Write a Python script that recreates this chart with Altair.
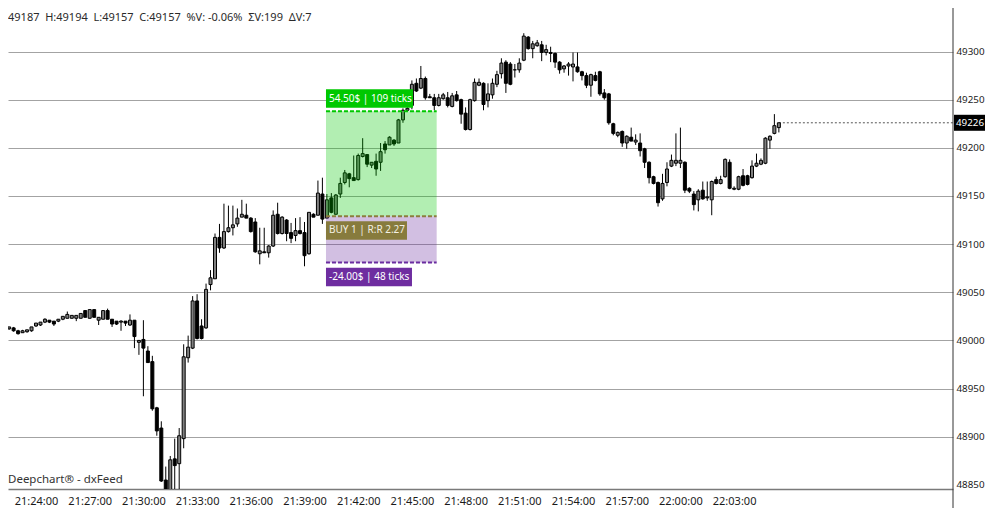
import altair as alt
import pandas as pd
from datetime import datetime, timedelta, timezone

# ---------------- data (15-second candles) ----------------
opens = [49012, 49012, 49012, 49013, 49010, 49008, 49009, 49010, 49015, 49016,
         49019, 49021, 49020, 49020, 49022, 49023, 49023, 49023, 49023, 49031,
         49023, 49032, 49021, 49022, 49031, 49022, 49020, 49019, 49020, 49016,
         49021, 48998, 49001, 48989, 48978, 48930, 48909, 48855, 48841, 48877,
         48872, 48898, 48982, 48992, 49041, 49015, 49013, 49058, 49064, 49107,
         49096, 49113, 49117, 49121, 49128, 49130, 49127, 49123, 49090, 49092,
         49091, 49098, 49131, 49111, 49125, 49112, 49109, 49114, 49112, 49090,
         49131, 49130, 49152, 49127, 49148, 49131, 49152, 49164, 49173, 49169,
         49167, 49191, 49193, 49182, 49186, 49185, 49204, 49203, 49208, 49205,
         49229, 49239, 49244, 49267, 49262, 49272, 49253, 49252, 49244, 49251,
         49252, 49243, 49255, 49250, 49236, 49219, 49249, 49265, 49267, 49249,
         49255, 49266, 49277, 49289, 49287, 49281, 49281, 49291, 49315, 49303,
         49306, 49307, 49299, 49299, 49298, 49289, 49282, 49285, 49284, 49284,
         49279, 49275, 49265, 49275, 49279, 49257, 49256, 49225, 49213, 49217,
         49205, 49211, 49206, 49205, 49199, 49185, 49170, 49164, 49147, 49164,
         49181, 49184, 49184, 49185, 49158, 49152, 49146, 49156, 49148, 49146,
         49167, 49163, 49170, 49185, 49157, 49157, 49171, 49171, 49169, 49181,
         49183, 49184, 49208, 49215, 49221]
highs = [49015, 49015, 49014, 49014, 49011, 49011, 49011, 49014, 49018, 49019,
         49023, 49021, 49020, 49022, 49025, 49030, 49026, 49026, 49028, 49031,
         49032, 49032, 49024, 49031, 49033, 49022, 49020, 49021, 49020, 49027,
         49021, 49000, 49021, 48994, 48984, 48931, 48916, 48869, 48880, 48898,
         48909, 48996, 49005, 49046, 49048, 49022, 49059, 49073, 49111, 49121,
         49142, 49140, 49140, 49137, 49146, 49142, 49128, 49127, 49117, 49117,
         49099, 49135, 49143, 49129, 49126, 49122, 49127, 49128, 49123, 49133,
         49132, 49166, 49169, 49152, 49153, 49152, 49169, 49177, 49174, 49192,
         49194, 49210, 49193, 49185, 49194, 49205, 49207, 49212, 49209, 49230,
         49241, 49242, 49270, 49272, 49285, 49274, 49256, 49256, 49256, 49257,
         49258, 49257, 49259, 49251, 49242, 49251, 49272, 49272, 49268, 49267,
         49272, 49280, 49293, 49291, 49289, 49287, 49293, 49319, 49316, 49311,
         49312, 49311, 49307, 49305, 49299, 49290, 49286, 49289, 49299, 49299,
         49280, 49278, 49277, 49279, 49280, 49261, 49257, 49226, 49217, 49218,
         49213, 49221, 49214, 49215, 49200, 49186, 49171, 49165, 49173, 49185,
         49193, 49215, 49221, 49186, 49159, 49155, 49157, 49165, 49165, 49166,
         49170, 49171, 49189, 49188, 49160, 49171, 49178, 49172, 49187, 49194,
         49189, 49211, 49213, 49235, 49226]
lows = [49011, 49011, 49011, 49009, 49006, 49008, 49008, 49009, 49014, 49015,
        49018, 49018, 49015, 49019, 49021, 49023, 49023, 49020, 49023, 49024,
        49023, 49024, 49016, 49022, 49022, 49014, 49016, 49010, 49015, 49015,
        48992, 48985, 48942, 48977, 48927, 48901, 48853, 48838, 48838, 48844,
        48844, 48888, 48977, 48991, 49001, 49001, 49012, 49052, 49064, 49091,
        49095, 49112, 49109, 49118, 49128, 49127, 49112, 49091, 49079, 49091,
        49086, 49097, 49110, 49110, 49103, 49101, 49103, 49110, 49077, 49089,
        49128, 49130, 49121, 49127, 49132, 49131, 49148, 49162, 49159, 49166,
        49166, 49190, 49180, 49179, 49171, 49176, 49194, 49203, 49202, 49205,
        49226, 49238, 49240, 49258, 49261, 49250, 49252, 49239, 49243, 49250,
        49242, 49242, 49248, 49225, 49218, 49218, 49248, 49264, 49239, 49242,
        49251, 49263, 49272, 49257, 49265, 49273, 49278, 49290, 49302, 49293,
        49305, 49290, 49296, 49289, 49283, 49277, 49278, 49275, 49269, 49278,
        49270, 49262, 49253, 49269, 49254, 49250, 49224, 49213, 49211, 49201,
        49199, 49207, 49203, 49191, 49179, 49163, 49162, 49139, 49145, 49160,
        49180, 49181, 49179, 49153, 49153, 49135, 49134, 49146, 49145, 49130,
        49162, 49162, 49169, 49157, 49156, 49156, 49160, 49161, 49168, 49180,
        49182, 49183, 49199, 49214, 49216]
closes = [49014, 49015, 49014, 49010, 49007, 49010, 49011, 49014, 49018, 49019,
          49022, 49019, 49017, 49022, 49025, 49027, 49026, 49026, 49028, 49024,
          49032, 49024, 49024, 49031, 49022, 49017, 49017, 49020, 49018, 49021,
          49004, 49000, 48992, 48977, 48929, 48906, 48854, 48843, 48876, 48870,
          48901, 48983, 48993, 49041, 49002, 49002, 49053, 49065, 49107, 49096,
          49113, 49117, 49120, 49127, 49131, 49127, 49113, 49092, 49093, 49091,
          49098, 49130, 49111, 49128, 49111, 49106, 49114, 49111, 49088, 49133,
          49128, 49153, 49126, 49146, 49133, 49151, 49163, 49174, 49168, 49166,
          49192, 49194, 49183, 49185, 49178, 49196, 49198, 49211, 49204, 49229,
          49239, 49241, 49266, 49259, 49272, 49252, 49252, 49244, 49252, 49255,
          49244, 49254, 49249, 49235, 49219, 49250, 49268, 49268, 49245, 49256,
          49267, 49276, 49288, 49267, 49266, 49281, 49288, 49316, 49303, 49308,
          49309, 49299, 49302, 49298, 49289, 49281, 49285, 49287, 49287, 49279,
          49275, 49265, 49276, 49270, 49256, 49252, 49226, 49215, 49216, 49205,
          49212, 49207, 49208, 49197, 49185, 49169, 49163, 49143, 49163, 49178,
          49187, 49187, 49187, 49156, 49155, 49141, 49155, 49147, 49149, 49165,
          49163, 49167, 49188, 49158, 49158, 49170, 49161, 49162, 49181, 49184,
          49187, 49210, 49212, 49223, 49226]

y_tick_values = [48850, 48900, 48950, 49000, 49050, 49100, 49150, 49200, 49250, 49300, 49350]

# position tool (long, 1 contract)
entry_price = 49129
target_price = 49238
stop_price = 49081
profit_label = "54.50$ | 109 ticks"
entry_label = "BUY 1 | R:R 2.27"
loss_label = "-24.00$ | 48 ticks"

header_text = "49187 \u00a0H:49194 \u00a0L:49157 \u00a0C:49157 \u00a0%V: -0.06% \u00a0ΣV:199 \u00a0ΔV:7"
watermark_text = "Deepchart® - dxFeed"

# ---------------- helpers ----------------
UTC = timezone.utc


def ts(h, m, s=0.0):
    return datetime(2024, 1, 1, h, m, 0, tzinfo=UTC) + timedelta(seconds=s)


def iso(d):
    return d.strftime("%Y-%m-%dT%H:%M:%S.%f")[:-3] + "Z"


def ms(d):
    return int(round(d.timestamp() * 1000))


first_bar = ts(21, 22)
bar_seconds = 15
times = [iso(first_bar + timedelta(seconds=bar_seconds * i)) for i in range(len(opens))]
df = pd.DataFrame({"t": times, "o": opens, "h": highs, "l": lows, "c": closes})

view_start = ts(21, 22, 26.15)
view_end = ts(22, 15, 13.7)
x_tick_values = [ms(ts(21, 24) + timedelta(minutes=3 * i)) for i in range(14)]

FONT = "Noto Sans"
W, H = 945, 481

xs = alt.Scale(type="utc", domain=[ms(view_start), ms(view_end)], nice=False, padding=0)
ys = alt.Scale(domain=[48845.7, 49345.2], nice=False, zero=False, padding=0)

x_axis = alt.Axis(values=x_tick_values, labelExpr="utcFormat(datum.value, '%H:%M:%S')",
                  title=None, grid=False, ticks=False, tickSize=0, labelPadding=15,
                  labelBaseline="alphabetic", labelFont=FONT, labelFontSize=11,
                  labelColor="#1a1a1a", domainColor="#7a7a7a", domainWidth=1.5,
                  labelOverlap=False, labelFlush=False)
y_axis = alt.Axis(orient="right", values=y_tick_values, format="d", title=None, ticks=False,
                  tickSize=0, labelPadding=3, labelFont=FONT, labelFontSize=9.8,
                  labelColor="#1a1a1a", labelAlign="left", labelBaseline="middle",
                  domain=False, grid=True, gridColor="#a3a3a3", gridWidth=1,
                  gridOpacity={"condition": {"test": "datum.value === 48850", "value": 0}, "value": 1},
                  labelOverlap=False, labelFlush=False)


def X(f):
    return alt.X(f, scale=xs, axis=x_axis)


def Y(f):
    return alt.Y(f, scale=ys, axis=y_axis)


# ---------------- candles ----------------
wicks = alt.Chart(df).mark_rule(color="#000000", strokeWidth=1, clip=True).encode(
    x=X("t:T"), y=Y("l:Q"), y2="h:Q")
bodies = alt.Chart(df).mark_bar(size=3, stroke="#000000", strokeWidth=1, clip=True).encode(
    x=X("t:T"),
    y=Y("o:Q"),
    y2="c:Q",
    fill=alt.condition("datum.c >= datum.o", alt.value("#808080"), alt.value("#000000")),
)

# ---------------- last price ----------------
lp_df = pd.DataFrame({"t": [times[-1]], "t2": [iso(view_end)], "p": [closes[-1]],
                      "label": [str(closes[-1])]})
lp_line = alt.Chart(lp_df).mark_rule(color="#555555", strokeWidth=1, strokeDash=[2, 2]).encode(
    x=X("t:T"), x2="t2:T", y=Y("p:Q"))
lp_box = alt.Chart(lp_df).mark_rect(width=31, height=16, xOffset=16.5, color="#000000").encode(
    x=X("t2:T"), y=Y("p:Q"))
lp_text = alt.Chart(lp_df).mark_text(align="left", baseline="middle", dx=3, font=FONT,
                                     fontSize=9.8, color="#ffffff").encode(
    x=X("t2:T"), y=Y("p:Q"), text="label:N")
axis_ext = alt.Chart(lp_df).mark_rule(color="#333333", strokeWidth=1).encode(
    x=X("t2:T"), y=alt.value(0), y2=alt.value(500))

# ---------------- position tool ----------------
pos_df = pd.DataFrame({"t0": [iso(ts(21, 40, 12))], "t1": [iso(ts(21, 46, 23))],
                       "entry": [entry_price], "target": [target_price], "stop": [stop_price],
                       "pl": [profit_label], "el": [entry_label], "ll": [loss_label]})
pos = alt.Chart(pos_df)
green_zone = pos.mark_rect(color="#00c800", opacity=0.3).encode(
    x=X("t0:T"), x2="t1:T", y=Y("entry:Q"), y2="target:Q")
red_zone = pos.mark_rect(color="#6a2ca0", opacity=0.3).encode(
    x=X("t0:T"), x2="t1:T", y=Y("stop:Q"), y2="entry:Q")
line_target = pos.mark_rule(color="#00c800", strokeWidth=2, strokeDash=[4, 2]).encode(
    x=X("t0:T"), x2="t1:T", y=Y("target:Q"))
line_entry = pos.mark_rule(color="#8c7d3e", strokeWidth=2, strokeDash=[4, 2]).encode(
    x=X("t0:T"), x2="t1:T", y=Y("entry:Q"))
line_stop = pos.mark_rule(color="#6a2ca0", strokeWidth=2, strokeDash=[4, 2]).encode(
    x=X("t0:T"), x2="t1:T", y=Y("stop:Q"))


def tag(field, label_field, width, yoff, fill, text_color):
    box = pos.mark_rect(width=width, height=18.5, xOffset=width / 2, yOffset=yoff,
                        color=fill).encode(x=X("t0:T"), y=Y(f"{field}:Q"))
    txt = pos.mark_text(align="left", baseline="middle", dx=3, dy=yoff, font=FONT,
                        fontSize=10, color=text_color).encode(
        x=X("t0:T"), y=Y(f"{field}:Q"), text=f"{label_field}:N")
    return [box, txt]


tags = (tag("target", "pl", 87, -12.7, "#00c800", "#ffffff")
        + tag("entry", "el", 81, 14.3, "#877b3d", "#f4f1e4")
        + tag("stop", "ll", 86, 14.6, "#6e2da0", "#ffffff"))

# ---------------- texts ----------------
header = alt.Chart(pd.DataFrame({"s": [header_text]})).mark_text(
    align="left", baseline="alphabetic", font=FONT, fontSize=11, color="#2a2a2a").encode(
    x=alt.value(0), y=alt.value(13), text="s:N")
watermark = alt.Chart(pd.DataFrame({"s": [watermark_text]})).mark_text(
    align="left", baseline="alphabetic", font=FONT, fontSize=11.5, color="#333333").encode(
    x=alt.value(0), y=alt.value(475), text="s:N")

chart = alt.layer(
    wicks, lp_line, bodies, green_zone, red_zone, line_target, line_entry, line_stop,
    *tags, lp_box, lp_text, axis_ext, header, watermark,
).properties(
    width=W, height=H,
    autosize=alt.AutoSizeParams(type="none"),
    padding={"left": 0, "top": 0, "right": 32, "bottom": 19},
    background="#ffffff",
).configure_view(stroke=None)

chart.save("out.html", embed_options={"renderer": "svg", "actions": False})
